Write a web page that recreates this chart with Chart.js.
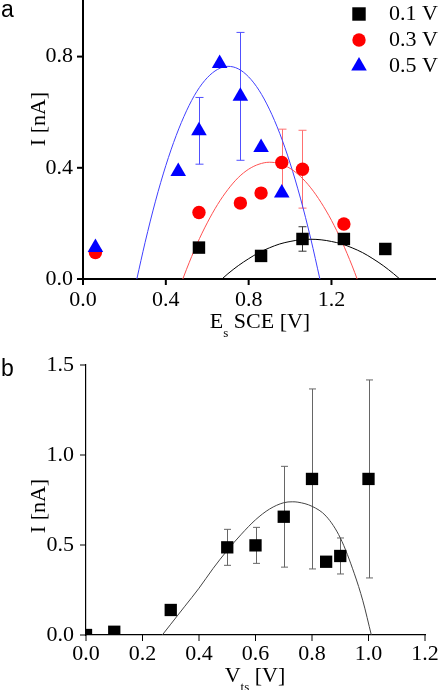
<!DOCTYPE html>
<html>
<head>
<meta charset="utf-8">
<script src="https://cdn.jsdelivr.net/npm/chart.js@4.4.0/dist/chart.umd.min.js"></script>
<style>
  body { margin: 0; background: #fff; }
  #wrap { position: relative; width: 438px; height: 690px; overflow: hidden; font-family: "Liberation Serif", serif; }
  canvas { position: absolute; left: 0; }
  #cA { top: 0; }
  #cB { top: 345px; }
  .lbl { position: absolute; white-space: nowrap; font-size: 22px; line-height: 22px; color: #000; }
  .panel { position: absolute; font-family: "Liberation Sans", Arial, sans-serif; font-size: 23px; line-height: 23px; }
  .ytitle { transform: translate(-50%, -50%) rotate(-90deg); }
  .xtitle { transform: translateX(-50%); }
  .sub { font-size: 13px; position: relative; top: 9px; }
</style>
</head>
<body>
<div id="wrap">
  <canvas id="cA" width="438" height="345"></canvas>
  <canvas id="cB" width="438" height="345"></canvas>
  <div class="panel" style="left:1px; top:-2px;">a</div>
  <div class="panel" style="left:1px; top:357px;">b</div>
  <div class="lbl ytitle" style="left:38px; top:119px;">I [nA]</div>
  <div class="lbl ytitle" style="left:38px; top:506px;">I [nA]</div>
  <div class="lbl xtitle" style="left:260px; top:310px;">E<span class="sub">s</span> SCE [V]</div>
  <div class="lbl xtitle" style="left:255px; top:664px;">V<span class="sub">ts</span> [V]</div>
</div>
<script>
// ---- panel a : I vs Es SCE ----
const aLabels = ['0.1 V', '0.3 V', '0.5 V'];

const aX01 = [0.56, 0.86, 1.06, 1.26, 1.46];
const aY01 = [0.113, 0.083, 0.144, 0.144, 0.108];
const aE01 = [null, null, 0.044, null, null];

const aX03 = [0.06, 0.56, 0.76, 0.86, 0.96, 1.06, 1.26];
const aY03 = [0.095, 0.239, 0.273, 0.309, 0.419, 0.395, 0.198];
const aE03 = [null, null, null, null, 0.12, 0.14, null];

const aX05 = [0.06, 0.46, 0.56, 0.66, 0.76, 0.86, 0.96];
const aY05 = [0.113, 0.387, 0.533, 0.775, 0.657, 0.473, 0.309];
const aE05 = [null, null, 0.12, null, 0.23, null, null];

// fitted curves
const fit01X = [0.671, 0.70, 0.75, 0.80, 0.85, 0.90, 0.95, 1.00, 1.05, 1.10, 1.15, 1.20, 1.25, 1.30, 1.35, 1.40, 1.45, 1.50, 1.53];
const fit01Y = [0, 0.019, 0.048, 0.073, 0.095, 0.112, 0.126, 0.135, 0.141, 0.143, 0.141, 0.135, 0.126, 0.112, 0.095, 0.073, 0.048, 0.019, 0];
const fit03X = [0.482, 0.50, 0.55, 0.60, 0.65, 0.70, 0.75, 0.80, 0.85, 0.90, 0.95, 1.00, 1.05, 1.10, 1.15, 1.20, 1.25, 1.30, 1.324];
const fit03Y = [0, 0.035, 0.125, 0.202, 0.268, 0.322, 0.365, 0.395, 0.413, 0.42, 0.415, 0.398, 0.369, 0.328, 0.275, 0.211, 0.135, 0.047, 0];
const fit05X = [0.26, 0.30, 0.35, 0.40, 0.45, 0.50, 0.55, 0.60, 0.65, 0.70, 0.75, 0.80, 0.85, 0.90, 0.95, 1.00, 1.05, 1.10, 1.144];
const fit05Y = [0, 0.132, 0.280, 0.408, 0.516, 0.605, 0.675, 0.724, 0.754, 0.765, 0.756, 0.727, 0.679, 0.611, 0.524, 0.417, 0.291, 0.145, 0];

// ---- panel b : I vs Vts ----
const bX = [0.0, 0.1, 0.3, 0.5, 0.6, 0.7, 0.8, 0.85, 0.9, 1.0];
const bY = [0.0, 0.018, 0.139, 0.487, 0.498, 0.657, 0.867, 0.407, 0.439, 0.867];
const bE = [null, null, null, 0.1, 0.1, 0.28, 0.5, null, 0.1, 0.55];

const fitBX = [0.27, 0.30, 0.35, 0.40, 0.45, 0.50, 0.55, 0.60, 0.65, 0.70, 0.73, 0.75, 0.80, 0.85, 0.90, 0.95, 0.98, 1.01];
const fitBY = [0, 0.06, 0.16, 0.26, 0.37, 0.47, 0.56, 0.64, 0.70, 0.735, 0.74, 0.738, 0.715, 0.66, 0.54, 0.34, 0.19, 0];

const SERIF = '"Liberation Serif", "Times New Roman", serif';

function pts(xs, ys) {
  return xs.map((x, i) => ({ x: x, y: ys[i] }));
}
function isMult(v, step) {
  const r = v / step;
  return Math.abs(r - Math.round(r)) < 1e-6;
}

// vertical error bars with caps
const errorBars = {
  id: 'errorBars',
  beforeDatasetsDraw(chart, args, opts) {
    const ctx = chart.ctx, xs = chart.scales.x, ys = chart.scales.y;
    ctx.save();
    chart.data.datasets.forEach(ds => {
      if (!ds.errors) return;
      ctx.strokeStyle = ds.errorColor;
      ctx.lineWidth = 1;
      ds.data.forEach((p, i) => {
        const e = ds.errors[i];
        if (e == null) return;
        const x = Math.round(xs.getPixelForValue(p.x)) + 0.5;
        const y1 = ys.getPixelForValue(p.y - e);
        const y2 = ys.getPixelForValue(p.y + e);
        ctx.beginPath();
        ctx.moveTo(x, y1); ctx.lineTo(x, y2);
        ctx.moveTo(x - opts.cap, y1); ctx.lineTo(x + opts.cap, y1);
        ctx.moveTo(x - opts.cap, y2); ctx.lineTo(x + opts.cap, y2);
        ctx.stroke();
      });
    });
    ctx.restore();
  }
};

// outward tick marks, long for labelled ticks, short for the others
const tickMarks = {
  id: 'tickMarks',
  afterDraw(chart, args, opts) {
    const ctx = chart.ctx;
    ctx.save();
    ctx.strokeStyle = '#000';
    ctx.lineWidth = opts.width;
    ['x', 'y'].forEach(id => {
      const s = chart.scales[id];
      s.ticks.forEach(t => {
        const len = (t.label != null) ? opts.major : opts.minor;
        const p = s.getPixelForValue(t.value);
        ctx.beginPath();
        if (id === 'x') {
          ctx.moveTo(p, s.top); ctx.lineTo(p, s.top + len);
        } else {
          ctx.moveTo(s.right, p); ctx.lineTo(s.right - len, p);
        }
        ctx.stroke();
      });
    });
    ctx.restore();
  }
};

function marker(ctx, style, x, y, r) {
  ctx.beginPath();
  if (style === 'rect') {
    const h = r * Math.SQRT1_2;
    ctx.rect(x - h, y - h, 2 * h, 2 * h);
  } else if (style === 'circle') {
    ctx.arc(x, y, r, 0, Math.PI * 2);
  } else {
    ctx.moveTo(x, y - r);
    ctx.lineTo(x + r * 0.866, y + r * 0.5);
    ctx.lineTo(x - r * 0.866, y + r * 0.5);
    ctx.closePath();
  }
  ctx.fill();
}

// legend in the top right corner of panel a
const legendA = {
  id: 'legendA',
  afterDraw(chart) {
    const ctx = chart.ctx;
    ctx.save();
    ctx.font = '22px ' + SERIF;
    ctx.textBaseline = 'middle';
    const marks = chart.data.datasets.slice(0, 3);
    aLabels.forEach((lab, i) => {
      const y = 14 + i * 26;
      ctx.fillStyle = marks[i].backgroundColor;
      marker(ctx, marks[i].pointStyle, 359, y, i === 0 ? 9.5 : marks[i].pointRadius);
      ctx.fillStyle = '#000';
      ctx.fillText(lab, 389, y);
    });
    ctx.restore();
  }
};

function axis(opts) {
  return {
    type: 'linear',
    min: opts.min,
    max: opts.max,
    grid: { display: false, drawTicks: false },
    border: { display: true, color: '#000', width: opts.border },
    ticks: {
      stepSize: opts.step,
      autoSkip: false,
      maxRotation: 0,
      padding: opts.pad,
      color: '#000',
      font: { family: SERIF, size: 22 },
      callback: v => isMult(v, opts.labelStep) ? v.toFixed(1) : null
    },
    afterBuildTicks: s => { s.ticks = s.ticks.filter(t => isMult(t.value, opts.step)); },
    afterFit: s => {
      if (opts.width) s.width = opts.width;
      if (opts.height) s.height = opts.height;
      s.paddingLeft = 0; s.paddingRight = 0; s.paddingTop = 0; s.paddingBottom = 0;
    }
  };
}

const common = {
  responsive: false,
  animation: false,
  events: [],
  plugins: { legend: { display: false }, tooltip: { enabled: false } }
};

new Chart(document.getElementById('cA'), {
  type: 'scatter',
  data: {
    datasets: [
      { data: pts(aX01, aY01), order: 2, errors: aE01, errorColor: '#333', pointStyle: 'rect', pointRadius: 8.8, backgroundColor: '#000', borderWidth: 0 },
      { data: pts(aX03, aY03), order: 1, errors: aE03, errorColor: '#ff7070', pointStyle: 'circle', pointRadius: 6.7, backgroundColor: '#ff0000', borderWidth: 0 },
      { data: pts(aX05, aY05), order: 0, errors: aE05, errorColor: '#5050ff', pointStyle: 'triangle', pointRadius: 9, backgroundColor: '#0000ff', borderWidth: 0 },
      { data: pts(fit01X, fit01Y), order: 3, showLine: true, pointRadius: 0, borderColor: '#000', borderWidth: 1, cubicInterpolationMode: 'monotone' },
      { data: pts(fit03X, fit03Y), order: 3, showLine: true, pointRadius: 0, borderColor: '#ff5050', borderWidth: 1, cubicInterpolationMode: 'monotone' },
      { data: pts(fit05X, fit05Y), order: 3, showLine: true, pointRadius: 0, borderColor: '#4040ff', borderWidth: 1, cubicInterpolationMode: 'monotone' }
    ]
  },
  options: Object.assign({}, common, {
    layout: { autoPadding: false, padding: { top: 1, right: 3, left: 0, bottom: 0 } },
    scales: {
      x: axis({ min: 0, max: 1.7, step: 0.2, labelStep: 0.4, pad: 8, border: 2, height: 66 }),
      y: axis({ min: 0, max: 1.0, step: 0.2, labelStep: 0.4, pad: 10, border: 2, width: 83 })
    },
    plugins: Object.assign({}, common.plugins, {
      errorBars: { cap: 4 },
      tickMarks: { width: 2, major: 6, minor: 4 }
    })
  }),
  plugins: [errorBars, tickMarks, legendA]
});

new Chart(document.getElementById('cB'), {
  type: 'scatter',
  data: {
    datasets: [
      { data: pts(bX, bY), order: 0, errors: bE, errorColor: '#666', pointStyle: 'rect', pointRadius: 8.7, backgroundColor: '#000', borderWidth: 0, clip: 0 },
      { data: pts(fitBX, fitBY), order: 1, showLine: true, pointRadius: 0, borderColor: '#444', borderWidth: 1, cubicInterpolationMode: 'monotone' }
    ]
  },
  options: Object.assign({}, common, {
    layout: { autoPadding: false, padding: { top: 20, right: 13, left: 0, bottom: 0 } },
    scales: {
      x: axis({ min: 0, max: 1.2, step: 0.1, labelStep: 0.2, pad: 6, border: 1.2, height: 55 }),
      y: axis({ min: 0, max: 1.5, step: 0.25, labelStep: 0.5, pad: 12, border: 1.2, width: 86 })
    },
    plugins: Object.assign({}, common.plugins, {
      errorBars: { cap: 3.5 },
      tickMarks: { width: 1, major: 6, minor: 4 }
    })
  }),
  plugins: [errorBars, tickMarks]
});
</script>
</body>
</html>
